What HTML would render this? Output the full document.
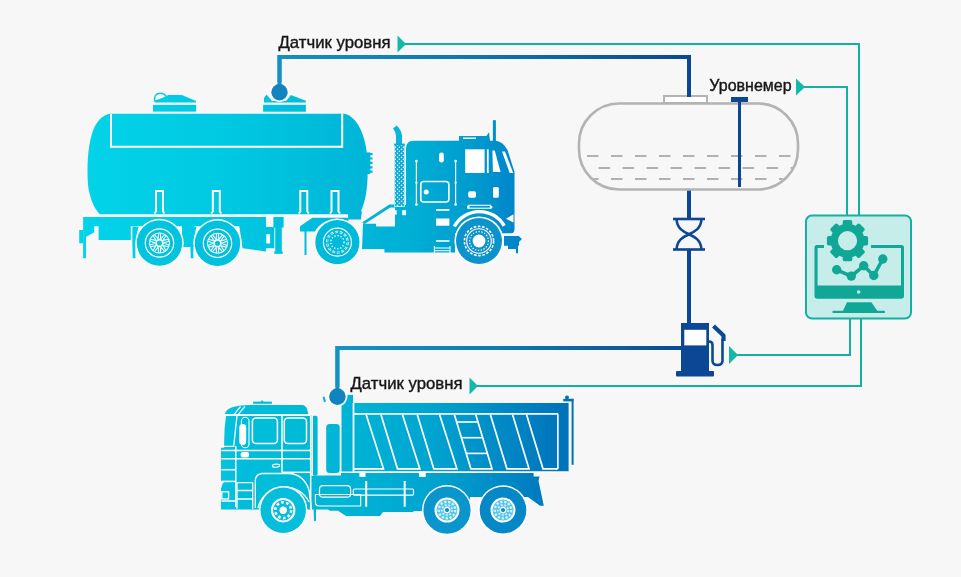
<!DOCTYPE html>
<html><head><meta charset="utf-8">
<style>
html,body{margin:0;padding:0;background:#f7f7f7;width:961px;height:577px;overflow:hidden}
svg{display:block}
text{font-family:"Liberation Sans",sans-serif;font-size:16.8px;fill:#161616;stroke:#161616;stroke-width:0.4px}
svg{will-change:transform}
</style></head>
<body>
<svg width="961" height="577" viewBox="0 0 961 577">
<defs>
 <linearGradient id="gT" gradientUnits="userSpaceOnUse" x1="80" y1="0" x2="525" y2="0">
  <stop offset="0" stop-color="#04d4e8"/>
  <stop offset="0.045" stop-color="#02d2e7"/>
  <stop offset="0.337" stop-color="#00c8e2"/>
  <stop offset="0.573" stop-color="#00b9da"/>
  <stop offset="0.742" stop-color="#00b0d4"/>
  <stop offset="0.899" stop-color="#0098ce"/>
  <stop offset="0.955" stop-color="#008acc"/>
  <stop offset="1" stop-color="#0082c6"/>
 </linearGradient>
 <linearGradient id="gD" gradientUnits="userSpaceOnUse" x1="220" y1="0" x2="575" y2="0">
  <stop offset="0" stop-color="#06c4e0"/>
  <stop offset="0.07" stop-color="#00bcdc"/>
  <stop offset="0.127" stop-color="#00bed9"/>
  <stop offset="0.394" stop-color="#00b2d4"/>
  <stop offset="0.597" stop-color="#00a4d0"/>
  <stop offset="0.924" stop-color="#0078be"/>
  <stop offset="1" stop-color="#0070b8"/>
 </linearGradient>
 <linearGradient id="gP1" gradientUnits="userSpaceOnUse" x1="278" y1="0" x2="692" y2="0">
  <stop offset="0" stop-color="#168fc4"/>
  <stop offset="0.45" stop-color="#0f78ae"/>
  <stop offset="1" stop-color="#0b4792"/>
 </linearGradient>
 <linearGradient id="gP2" gradientUnits="userSpaceOnUse" x1="335" y1="0" x2="692" y2="0">
  <stop offset="0" stop-color="#1792c4"/>
  <stop offset="0.45" stop-color="#0f7bb0"/>
  <stop offset="1" stop-color="#0b4792"/>
 </linearGradient>
 <pattern id="dots" width="4" height="4" patternUnits="userSpaceOnUse">
  <circle cx="3.5" cy="3.4" r="0.8" fill="#e8fdff"/>
  <circle cx="1.5" cy="1.4" r="0.8" fill="#e8fdff"/>
 </pattern>
 <symbol id="hubA" viewBox="-25 -25 50 50" width="50" height="50" overflow="visible"><g fill="none" stroke="#fff"><circle r="14.2" stroke-width="1.2"/><circle r="10" stroke-width="1.1"/><path d="M4.20 0.00L9.37 -2.10M4.20 0.00L9.37 2.10M3.40 2.47L8.81 3.81M3.40 2.47L6.35 7.20M1.30 3.99L4.89 8.26M1.30 3.99L0.90 9.56M-1.30 3.99L-0.90 9.56M-1.30 3.99L-4.89 8.26M-3.40 2.47L-6.35 7.20M-3.40 2.47L-8.81 3.81M-4.20 0.00L-9.37 2.10M-4.20 0.00L-9.37 -2.10M-3.40 -2.47L-8.81 -3.81M-3.40 -2.47L-6.35 -7.20M-1.30 -3.99L-4.89 -8.26M-1.30 -3.99L-0.90 -9.56M1.30 -3.99L0.90 -9.56M1.30 -3.99L4.89 -8.26M3.40 -2.47L6.35 -7.20M3.40 -2.47L8.81 -3.81" stroke-width="1.1"/><circle r="3.4" stroke-width="1.7"/></g></symbol>
 <clipPath id="tankClip"><rect x="580" y="105" width="217" height="83" rx="39"/></clipPath>
</defs>

<!-- ===== teal signal lines ===== -->
<g fill="none" stroke="#16b0a2" stroke-width="2">
 <polyline points="404,44 859,44 859,216"/>
 <polyline points="804,87 847,87 847,216"/>
 <polyline points="850,318 850,355 736,355"/>
 <polyline points="861,318 861,386 476,386"/>
</g>
<g fill="#12b9a9">
 <polygon points="397.5,35.5 406,44 397.5,52.5"/>
 <polygon points="796,78.5 805,87 796,95.5"/>
 <polygon points="729,346 738,355 729,364"/>
 <polygon points="469.5,377.5 478,386 469.5,394.5"/>
</g>

<!-- ===== labels ===== -->
<text x="278.5" y="48" textLength="112" lengthAdjust="spacingAndGlyphs">Датчик уровня</text>
<text x="709.3" y="90.5" textLength="82.3" lengthAdjust="spacingAndGlyphs">Уровнемер</text>
<text x="350.5" y="389.2" textLength="112" lengthAdjust="spacingAndGlyphs">Датчик уровня</text>

<!-- ===== blue pipes ===== -->
<path d="M279.5 92 V57 H689 V97" fill="none" stroke="url(#gP1)" stroke-width="4"/>
<path d="M689 190 V219 M689 249.5 V323" fill="none" stroke="#0c4795" stroke-width="4"/>
<path d="M683 348 H337.4 V396" fill="none" stroke="url(#gP2)" stroke-width="4"/>

<!-- ===== storage tank ===== -->
<rect x="664" y="96" width="43" height="7" fill="#fff" stroke="#b3b3b3" stroke-width="2"/>
<rect x="579" y="103.5" width="219" height="86" rx="40" fill="#f7f7f7" stroke="#b3b3b3" stroke-width="2.6"/>
<g clip-path="url(#tankClip)" stroke="#b0b0b0" stroke-width="2" fill="none">
 <line x1="563" y1="156" x2="800" y2="156" stroke-dasharray="11.5 12.5" stroke-dashoffset="0"/>
 <line x1="598.6" y1="168" x2="800" y2="168" stroke-dasharray="11.5 12.5"/>
 <line x1="563" y1="179" x2="800" y2="179" stroke-dasharray="11.5 12.5"/>
</g>
<!-- level gauge -->
<rect x="731" y="97" width="17" height="5" fill="#0c4795"/>
<rect x="738" y="101" width="3" height="86" fill="#0c4795"/>

<!-- ===== valve ===== -->
<g fill="none" stroke="#0c4795" stroke-width="2.6">
 <line x1="673" y1="219" x2="705" y2="219"/>
 <line x1="673" y1="249.5" x2="705" y2="249.5"/>
 <path d="M676.5 219 C677 228.5 683 231.5 689 234.2 C695 237 701 240 701.5 249.5"/>
 <path d="M701.5 219 C701 228.5 695 231.5 689 234.2 C683 237 677 240 676.5 249.5"/>
</g>

<!-- ===== fuel pump ===== -->
<g fill="#0c4795">
 <rect x="681" y="323" width="28" height="50"/>
 <rect x="676" y="371" width="38" height="5.6" rx="1"/>
</g>
<rect x="684.3" y="329.8" width="22" height="15.6" fill="#fff"/>
<path d="M709 341.5 Q712.5 341.5 712.5 345 V360.5 Q712.5 365 717.5 365 Q722.5 365 722.5 360.5 V339" fill="none" stroke="#0c4795" stroke-width="2.6"/>
<path d="M723.5 341 V335.5 L713.5 326" fill="none" stroke="#0c4795" stroke-width="4.2" stroke-linejoin="round"/>

<!-- ===== monitor box ===== -->
<rect x="806" y="215.5" width="105" height="103" rx="6" fill="#c6ede9" stroke="#16b0a2" stroke-width="2"/>
<g fill="#11a797" stroke="none">
 <!-- screen outline -->
 <path d="M824 245 H817 Q814.5 245 814.5 247.5 V296 Q814.5 298.8 817.5 298.8 H901 Q904 298.8 904 296 V247.5 Q904 245 901.5 245 H871 V248 H901 V285.6 H817.6 V248 H824 Z"/>
 <!-- stand -->
 <path d="M847 302.3 H871.4 L877.6 311.3 H842.7 Z"/>
 <rect x="832.5" y="310.8" width="52.4" height="2.2"/>
 <!-- gear -->
 <g transform="translate(847.5,240.7)">
  <circle r="17"/>
  <g>
   <rect x="-4.8" y="-20.6" width="9.6" height="7" rx="1.8"/>
   <rect x="-4.8" y="-20.6" width="9.6" height="7" rx="1.8" transform="rotate(45)"/>
   <rect x="-4.8" y="-20.6" width="9.6" height="7" rx="1.8" transform="rotate(90)"/>
   <rect x="-4.8" y="-20.6" width="9.6" height="7" rx="1.8" transform="rotate(135)"/>
   <rect x="-4.8" y="-20.6" width="9.6" height="7" rx="1.8" transform="rotate(180)"/>
   <rect x="-4.8" y="-20.6" width="9.6" height="7" rx="1.8" transform="rotate(225)"/>
   <rect x="-4.8" y="-20.6" width="9.6" height="7" rx="1.8" transform="rotate(270)"/>
   <rect x="-4.8" y="-20.6" width="9.6" height="7" rx="1.8" transform="rotate(315)"/>
  </g>
  <circle r="9.6" fill="#c6ede9"/>
 </g>
 <!-- chart -->
 <polyline points="836.7,269.8 851.3,276.1 863.7,265.8 873.8,275.5 882.8,259" fill="none" stroke="#11a797" stroke-width="3.6"/>
 <circle cx="836.7" cy="269.8" r="4.7"/>
 <circle cx="851.3" cy="276.1" r="4.7"/>
 <circle cx="863.7" cy="265.8" r="4.7"/>
 <circle cx="873.8" cy="275.5" r="4.7"/>
 <circle cx="882.8" cy="259" r="4.7"/>
</g>
<circle cx="858.7" cy="292" r="1.8" fill="#c6ede9"/>

<!-- ===== TANKER TRUCK ===== -->
<g id="tanker" fill="url(#gT)">
 <!-- tank -->
 <path d="M110 113.7 H344 C357 116 366 135 367.5 160 C368.5 185 366 200 361 211 Q359 213.5 355 214.4 H100 C94 209 89.5 197 88 185 C86.5 165 88 140 95 126 C99 119 104 114.5 110 113.7 Z"/>
 <!-- hatches -->
 <rect x="153" y="104.9" width="43.1" height="6.7"/>
 <path d="M155 102.6 V100.5 Q161 99 168.4 95 H181.8 L196 101 V102.6 Z"/>
 <path d="M154.6 101.6 Q153.8 93.3 160 93.3 Q165 93.4 166.8 97.2" fill="none" stroke="#0cc9e2" stroke-width="1.5"/>
 <rect x="263.1" y="104.8" width="42.8" height="6.9"/>
 <path d="M264 102.6 V98 L266.5 94.5 L272 101 H286 L290.9 95.1 L305.9 100.7 V102.6 Z"/>
 <!-- trailer chassis -->
 <rect x="83.1" y="217" width="182.8" height="9.2"/>
 <path d="M98.6 226 H130.8 V240 H98.6 Z"/>
 <path d="M83.1 226 H94.2 V232.2 L86 237 V258.3 H83.1 Z"/>
 <path d="M79.2 230 H83.1 V243.3 H79.2 Z"/>
 <path d="M132.5 226.6 H136 L138.6 227 Q134.5 240 135.5 258.3 H132.8 Q132 240 132.5 226.6 Z"/>
 <path d="M182 226 H194 V247 H182 Z"/>
 <path d="M190 226.6 H195 L196.5 227 Q192.5 240 193.5 258.3 H190.8 Q190 240 190 226.6 Z"/>
 <path d="M238 217 H265.9 V251.5 L242.5 248.2 Z"/>
 <path d="M273.4 216.9 H283.6 V227.6 H273.4 Z"/>
 <path d="M265 227 H274.3 V248.2 H265 Z"/>
 <path d="M275.2 227 H281.8 V252 H275.2 Z"/>
 <path d="M274.3 251.3 H282.7 V253.8 H274.3 Z"/>
 <!-- fifth wheel fender -->
 <path d="M300 231.6 V226.2 L312.5 217.7 H348.5 V221 L340 219 A25 25 0 0 0 314.8 231.6 Z"/>
 <rect x="304.5" y="228" width="2" height="27"/>
 <!-- tractor frame & ramp -->
 <path d="M362.3 222.3 L389.4 204.6 H396 V207.4 H390.3 L364.2 224.3 Z"/>
 <path d="M347 211 H361.8 L361 219.5 H348.5 Z"/>
 <path d="M363 223.7 H376 V226.5 H395 V205 H407 V232 H455 V252.4 H384.4 V249 H362 Z"/>
 <path d="M365 152.4 H370.3 V174 H365 Z"/>
 <path d="M370 153 h2.5 v2.2 h-2.5 z M370 157.4 h2.5 v2.2 h-2.5 z M370 161.8 h2.5 v2.2 h-2.5 z M370 166.2 h2.5 v2.2 h-2.5 z M370 170.6 h2.5 v2.2 h-2.5 z"/>
 <!-- cab -->
 <path d="M406 148.5 Q406 140.7 413.5 140.7 H496 Q503 141.5 507.5 150 L514.5 172 V229 Q514.5 233.3 511 233.3 H406 Z"/>
 <path d="M459 136.1 H486.4 L489 132.3 L490 141 H459 Z"/>
 <rect x="492.9" y="120.2" width="3" height="21"/>
 <!-- bumper -->
 <path d="M504 236 H518.7 L521.9 238.9 L519 242 V245.7 H518 V253.2 H516 V249 H508 V245.7 H504 Z"/>
</g>
<!-- exhaust stack -->
<path d="M396 144.5 V136 Q396 132 393 128.5 L396.8 125.5 Q402 131 402 136 V144.5 Z" fill="#0cb4da"/>
<rect x="394.2" y="144" width="10.6" height="63" fill="#08a9d2"/>
<rect x="394.2" y="144" width="10.6" height="63" fill="url(#dots)"/>
<rect x="394.7" y="144.5" width="9.6" height="62" fill="none" stroke="#dffaff" stroke-width="0.8"/>
<rect x="394.2" y="143.6" width="10.6" height="1.8" fill="#08a9d2"/>
<!-- white details tanker -->

<g fill="none" stroke="#fff" stroke-width="2">
 <path d="M111 113.7 V146.8 H342.2 V113.7"/>
 <path d="M154.5 213.5 L156 211.5 V191 H163 V211.5 L164.5 213.5"/>
 <path d="M211.3 213.5 L212.8 211.5 V191 H219.8 V211.5 L221.3 213.5"/>
 <path d="M298.8 213.5 L300.3 211.5 V191 H307.3 V211.5 L308.8 213.5"/>
 <path d="M330 213.5 L331.5 211.5 V191 H338.5 V211.5 L340 213.5"/>
 <line x1="83" y1="215.5" x2="348" y2="215.5"/>
 <path d="M454.3 226.5 A28.6 28.6 0 0 1 504.2 225.9" stroke-width="3.4"/>
 <rect x="420.8" y="181.5" width="28.1" height="20.5" rx="3" stroke-width="1.6"/>
 <line x1="416.4" y1="160.9" x2="416.4" y2="204.6" stroke-width="1.2"/>
 <line x1="455.6" y1="160.9" x2="455.6" y2="204.6" stroke-width="1.2"/>
 <line x1="467.8" y1="205.3" x2="491" y2="205.3" stroke-width="1.1"/>
 <line x1="467.8" y1="208.2" x2="491" y2="208.2" stroke-width="1.1"/>
 <path d="M434.4 246 V255.7 M450 246 V255.7 M434.4 248 H450 M434.4 250.8 H450 M434.4 253.6 H450" stroke-width="1.1"/>
 
</g>
<g fill="#fff">
 <rect x="266.3" y="234.2" width="3.8" height="9.3"/>
 <rect x="465.2" y="149.3" width="19.4" height="23.7"/>
 <rect x="486.9" y="149.3" width="1.8" height="23.7"/>
 <path d="M492.4 150.5 H494.7 L500.6 172.1 H492.9 Z"/>
 <path d="M502 151.4 H505 L513.2 173 H509.7 Z"/>
 <rect x="439.1" y="152.5" width="4.7" height="10" rx="2.35"/>
 <circle cx="426.2" cy="192" r="2.5"/>
 <rect x="468.2" y="191.2" width="7.8" height="6.6" rx="1.8"/>
 <rect x="493" y="186.9" width="5.8" height="10.9" rx="1.5"/>
 <rect x="436" y="209" width="13.4" height="1.8"/>
 <rect x="436" y="218.5" width="13.4" height="7.2"/>
 <rect x="436" y="240.2" width="13.4" height="1.6"/>
 <rect x="402.2" y="210.2" width="3.9" height="5"/>
 <rect x="395" y="210.2" width="1.7" height="4.4"/>
 <path d="M506 218.7 L513.5 214.3 V222.6 Z"/>
 <rect x="467" y="205.9" width="2.5" height="2.5"/>
 <rect x="489.8" y="205.9" width="2.5" height="2.5"/>
 <circle cx="416.4" cy="161" r="1.3"/><circle cx="416.4" cy="204.5" r="1.3"/><circle cx="416.4" cy="182.7" r="1.1"/>
 <circle cx="455.6" cy="161" r="1.3"/><circle cx="455.6" cy="204.5" r="1.3"/><circle cx="455.6" cy="182.7" r="1.1"/>
 <rect x="463" y="137.5" width="13" height="1.4"/>
</g>
<!-- tanker wheels -->
<g>
 <g transform="translate(159.5,243)"><circle r="24.2" fill="#fff"/><circle r="22.7" fill="#03c4df"/><use href="#hubA" x="-25" y="-25"/></g>
 <g transform="translate(217.5,243.3)"><circle r="24.2" fill="#fff"/><circle r="22.7" fill="#02c1de"/><use href="#hubA" x="-25" y="-25"/></g>
 <g transform="translate(337.4,242.2)"><circle r="23.6" fill="#fff"/><circle r="22.1" fill="#00badb"/><circle r="14" fill="none" stroke="#fff" stroke-width="1.2"/><circle r="10.3" fill="none" stroke="#fff" stroke-width="2.2" stroke-dasharray="3 1.6"/><circle r="10.3" fill="none" stroke="#00badb" stroke-width="0.8"/><circle r="6.6" fill="none" stroke="#fff" stroke-width="1.4" stroke-dasharray="1.3 1.8"/></g>
 <g transform="translate(479,241)"><circle r="24.6" fill="#fff"/><circle r="23" fill="#0d93cc"/><circle r="14.6" fill="none" stroke="#fff" stroke-width="1.6" stroke-dasharray="2.6 1.6"/><circle r="12.3" fill="none" stroke="#fff" stroke-width="1.1"/><circle r="9.4" fill="none" stroke="#fff" stroke-width="1.2" stroke-dasharray="1.3 1.6"/><circle r="6.4" fill="#fff"/></g>
</g>

<!-- ===== DUMP TRUCK ===== -->
<g id="dump" fill="url(#gD)">
 <!-- cab roof -->
 <path d="M224.7 414.4 Q226 409 233 407 Q240 405 250 405 H302 Q305.5 405.2 307 409 L308.5 414.4 Z"/>
 <path d="M253.1 401.6 H271.9 V403.8 H253.1 Z"/>
 <circle cx="262" cy="401.7" r="1.3"/>
 <!-- cab body -->
 <path d="M226 415.8 H312 V476 H315.5 V509.4 H221 V447.7 H224.2 Q223.8 430 226 415.8 Z"/>
 <rect x="312" y="415.8" width="5.6" height="60" rx="2"/>
 <rect x="326.2" y="424.1" width="13.5" height="49" rx="3.5"/>
 <path d="M322.5 397 L324.5 396.4 L326 401.5 L324 402.2 Z"/>
 <!-- dump body front wall -->
 <rect x="341.5" y="394.9" width="11.6" height="77.5"/>
 <!-- dump body -->
 <rect x="353" y="403" width="215.6" height="68.5"/>
 <!-- tailgate pole -->
 <rect x="563.3" y="398.8" width="10.2" height="2.6"/>
 <rect x="571.6" y="398.8" width="2" height="66"/>
 <circle cx="567" cy="397.5" r="2"/>
 <!-- chassis -->
 <path d="M315 475.5 H341 V473 H527.8 L533.6 473 V476.6 H539.5 L538.5 481 L543.8 505.7 H540 L528 497 H470 L469 511 H426 L423 511 H413.5 V512 H383 L380 516 H346 L338 510.7 H330 L328 509.4 H315 Z"/>
 <path d="M313.5 505 H316 V521 H314 Z"/>
</g>
<!-- dump truck white details -->
<g fill="none" stroke="#fff" stroke-width="1.5">
 <line x1="224" y1="415.1" x2="310.5" y2="415.1" stroke-width="1.6"/>
 <path d="M234 414.6 L240.5 406.5 M238 414.6 L245 406.5" stroke-width="1.2"/>
 <path d="M237 415.8 L233.7 446.3 H221.5" stroke-width="1.3"/>
 <line x1="235.8" y1="446" x2="235.8" y2="507" stroke-width="1.4"/>
 <line x1="282" y1="416" x2="282" y2="472.5"/>
 <line x1="310.7" y1="416" x2="310.7" y2="509"/>
 <line x1="312.2" y1="416" x2="312.2" y2="476"/>
 <line x1="221.5" y1="450.5" x2="310.7" y2="450.5"/>
 <line x1="221.5" y1="458.8" x2="310.7" y2="458.8"/>
 <line x1="221.5" y1="469.7" x2="235.8" y2="469.7"/>
 <line x1="221.5" y1="481.4" x2="235.8" y2="481.4"/>
 <line x1="221.5" y1="501" x2="235.8" y2="501"/>
 <line x1="282" y1="472.3" x2="310.7" y2="472.3"/>
 <rect x="252.4" y="417.9" width="25" height="25.6" rx="3.5"/>
 <rect x="284.3" y="417.9" width="22.2" height="25.6" rx="3.5"/>
 <rect x="241.4" y="417.2" width="7.6" height="30.5" rx="3.8" stroke-width="1.1"/>
 <path d="M272 465.5 Q276 463 280 465 M272 466.5 Q276 468.5 280 466" stroke-width="1.1"/>
 <path d="M255.3 508 V480 Q256 474 262 473.5 H290 Q304 475 309 490 L311.5 510" stroke-width="1.3"/>
 <path d="M258 508 A27.3 27.3 0 0 1 309 502" stroke-width="1.3"/>
 <rect x="221.8" y="491.8" width="6.8" height="7.2" stroke-width="1.3"/>
 <path d="M237 482.7 V508.7 M252.7 482.7 V508.7 M237 490.5 H252.7 M237 499 H252.7 M237 482.7 H252.7" stroke-width="1.3"/>
 <rect x="319.5" y="485.7" width="31.1" height="11.5" rx="3.5" stroke-width="1.2"/>
 <path d="M315.4 494.5 H360.7 V506 H319 Q315.4 506 315.4 502 Z" stroke-width="1.1"/>
 <rect x="353.3" y="489" width="60.2" height="6.2" rx="1.2" stroke-width="1.2"/>
 <path d="M366.2 481 V506.7 M404.7 481 V506.7" stroke-width="2"/>
 <!-- dump body lines -->
 <line x1="353" y1="413.8" x2="558" y2="413.8" stroke-width="1.8"/>
 <line x1="353.5" y1="403" x2="353.5" y2="472" stroke-width="1.8"/>
 <line x1="341" y1="472.2" x2="568.6" y2="472.2" stroke-width="1.4"/>
 <line x1="557.9" y1="413.8" x2="557.9" y2="469" stroke-width="1.6"/>
 <path d="M354 468.8 H383.5 L366.2 414.7 M381 414.7 L397.5 468.8 H419.8 L402.5 414.7 M417.3 414.7 L433.8 468.8 H456.9 L439.6 414.7 M454.4 414.7 L470.9 468.8 H492 L475.8 414.7 M490.4 414.7 L506.9 468.8 H529 L512.6 414.7 M526.6 414.7 L543 468.8 H557.9" stroke-width="1.7"/>
 <line x1="456.5" y1="422" x2="477.5" y2="422" stroke-width="1.6"/>
 <line x1="461.5" y1="437.7" x2="482.5" y2="437.7" stroke-width="1.6"/>
 <line x1="466.5" y1="453.4" x2="487.5" y2="453.4" stroke-width="1.6"/>
</g>
<path d="M219.5 481 H227 Q221.8 482.2 221.3 488 H219.5 Z" fill="#f7f7f7"/>
<g fill="#fff">
 <rect x="239.3" y="424.1" width="6.9" height="20.8" rx="3.4"/>
 <rect x="240.7" y="451.9" width="8.3" height="5.5" rx="2"/>
 <rect x="359.4" y="471.5" width="6.1" height="5.4"/>
 <rect x="419" y="471.5" width="6.7" height="5.4"/>
</g>
<!-- dump wheels -->
<g>
 <g transform="translate(283.2,510.2)"><circle r="24.2" fill="#fff"/><circle r="22.7" fill="#06bddc"/><circle r="11.2" fill="none" stroke="#fff" stroke-width="2"/><circle r="7.9" fill="none" stroke="#fff" stroke-width="2.6" stroke-dasharray="2.6 2.4"/><circle r="3.7" fill="#fff"/></g>
 <g transform="translate(447,510.1)"><circle r="25" fill="#fff"/><circle r="23.6" fill="#0a95cc"/><circle r="11" fill="#56c3e6"/><circle r="11.5" fill="none" stroke="#fff" stroke-width="2"/><circle r="8.3" fill="none" stroke="#c8f2fb" stroke-width="2.4" stroke-dasharray="2.4 1.6"/><circle r="5.2" fill="none" stroke="#c8f2fb" stroke-width="1.8" stroke-dasharray="2 1.6"/><circle r="2.8" fill="#0a8fc8" stroke="#fff" stroke-width="1.4"/></g>
 <g transform="translate(503,510.1)"><circle r="24.8" fill="#fff"/><circle r="23.3" fill="#0788c6"/><circle r="11" fill="#56c3e6"/><circle r="11.5" fill="none" stroke="#fff" stroke-width="2"/><circle r="8.3" fill="none" stroke="#c8f2fb" stroke-width="2.4" stroke-dasharray="2.4 1.6"/><circle r="5.2" fill="none" stroke="#c8f2fb" stroke-width="1.8" stroke-dasharray="2 1.6"/><circle r="2.8" fill="#0a8fc8" stroke="#fff" stroke-width="1.4"/></g>
</g>

<!-- ===== sensor circles (on top) ===== -->
<circle cx="279.5" cy="92.2" r="10.1" fill="#fff"/>
<circle cx="337.4" cy="396.6" r="10.1" fill="#fff"/>
<path d="M279.5 92 V57 H689 V97" fill="none" stroke="url(#gP1)" stroke-width="4"/>
<path d="M683 348 H337.4 V396" fill="none" stroke="url(#gP2)" stroke-width="4"/>
<circle cx="279.5" cy="92.2" r="8.2" fill="#1183bf"/>
<circle cx="337.4" cy="396.6" r="8.3" fill="#1183bf"/>
</svg>
</body></html>
